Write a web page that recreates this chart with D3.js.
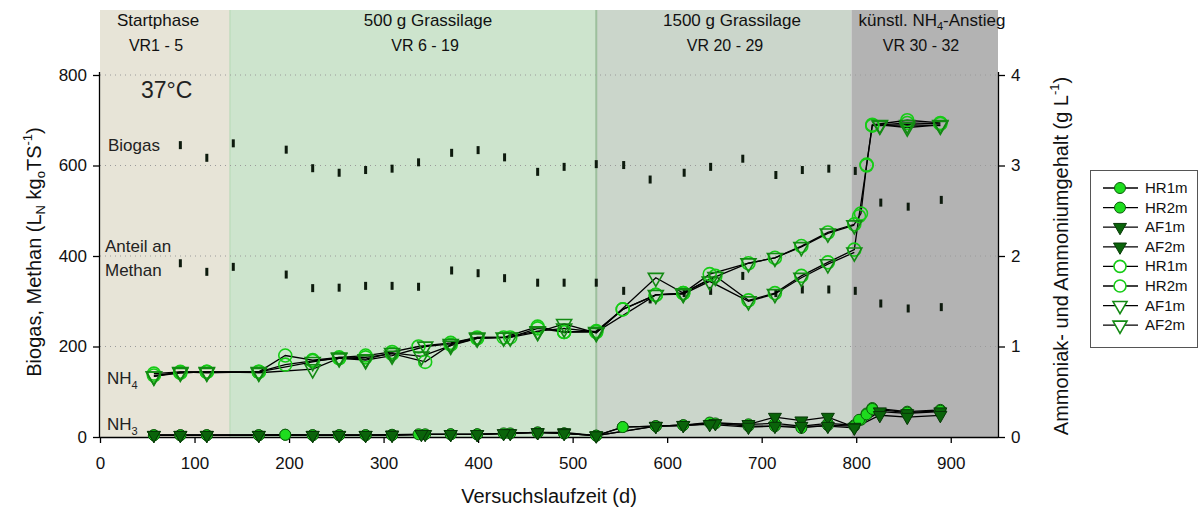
<!DOCTYPE html>
<html><head><meta charset="utf-8">
<script src="https://cdn.jsdelivr.net/npm/d3@7"></script>
<style>body{margin:0;background:#fff}svg{display:block;font-family:"Liberation Sans",Arial,sans-serif}</style>
</head><body>
<svg id="c" width="1203" height="508"></svg>
<script>
// ---- data ----
const xTicks = [0,100,200,300,400,500,600,700,800,900];
const yLeftTicks = [0,200,400,600,800];
const yRightTicks = [0,1,2,3,4];
const phaseStart = [0,137.5,525,795];
const phaseEnd = [137.5,525,795,950];
const phaseTitle = ["Startphase","500 g Grassilage","1500 g Grassilage","künstl. NH4-Anstieg"];
const phaseVR = ["VR1 - 5","VR 6 - 19","VR 20 - 29","VR 30 - 32"];

const gasDays = [85,113,141,197,225,253,281,309,337,372,400,428,463,491,525,554,582,618,646,680,715,743,771,799,826,855,890];
const biogas = [645,617,649,635,594,584,590,593,607,628,634,618,586,597,603,601,569,584,597,615,579,590,593,588,518,509,524];
const methan = [384,365,376,359,329,330,334,334,332,368,362,351,341,341,341,323,304,318,323,356,318,326,326,323,295,284,287];

const hr1Days = [57,85,113,168,196,225,253,281,309,337,371,399,427,463,491,525,553,588,617,645,686,714,742,770,798,805,811,817,854,889];
const hr1NH4 = [0.70,0.72,0.72,0.72,0.90,0.85,0.88,0.90,0.94,1.00,1.04,1.10,1.10,1.22,1.16,1.17,1.41,1.57,1.59,1.80,1.92,1.98,2.11,2.26,2.35,2.47,3.01,3.45,3.50,3.47];
const hr1NH3 = [0.02,0.02,0.02,0.02,0.025,0.02,0.02,0.02,0.025,0.03,0.03,0.03,0.04,0.05,0.04,0.015,0.11,0.12,0.13,0.16,0.14,0.15,0.12,0.15,0.13,0.19,0.26,0.32,0.28,0.30];

const hr2Days = [57,85,113,168,196,225,253,281,309,344,371,399,434,463,491,525,553,588,617,651,686,714,742,770,798,803,811,817,854,889];
const hr2NH4 = [0.68,0.71,0.72,0.72,0.80,0.84,0.87,0.88,0.92,0.83,1.02,1.09,1.10,1.20,1.16,1.16,1.41,1.57,1.59,1.78,1.51,1.59,1.78,1.93,2.07,2.44,3.00,3.44,3.47,3.46];
const hr2NH3 = [0.02,0.02,0.02,0.02,0.025,0.02,0.02,0.02,0.02,0.03,0.03,0.03,0.04,0.05,0.04,0.015,0.11,0.12,0.13,0.15,0.12,0.12,0.10,0.13,0.12,0.19,0.25,0.31,0.27,0.29];

const af1Days = [57,85,113,168,225,253,281,309,344,371,399,434,463,491,525,588,617,651,686,714,742,770,798,812,825,854,889];
const af1NH4 = [0.67,0.71,0.72,0.71,0.75,0.87,0.85,0.90,1.00,1.03,1.10,1.10,1.16,1.25,1.15,1.76,1.59,1.77,1.92,1.98,2.10,2.25,2.34,null,3.45,3.42,3.45];
const af1NH3 = [0.02,0.02,0.02,0.02,0.02,0.02,0.02,0.025,0.03,0.03,0.03,0.04,0.05,0.05,0.015,0.12,0.13,0.15,0.14,0.22,0.18,0.22,0.11,null,0.28,0.26,0.28];

const af2Days = [57,85,113,168,225,253,281,309,340,371,399,427,463,491,525,588,617,645,686,714,742,770,798,812,825,854,889];
const af2NH4 = [0.67,0.72,0.71,0.72,0.83,0.88,0.86,0.93,0.89,1.01,1.09,1.10,1.17,1.20,1.16,1.57,1.58,1.72,1.50,1.58,1.76,1.91,2.04,null,3.44,3.45,3.44];
const af2NH3 = [0.02,0.02,0.02,0.02,0.02,0.02,0.02,0.02,0.03,0.03,0.03,0.04,0.05,0.04,0.015,0.12,0.13,0.14,0.11,0.12,0.12,0.12,0.10,null,0.24,0.22,0.24];

const legendNames = ["HR1m","HR2m","AF1m","AF2m","HR1m","HR2m","AF1m","AF2m"];

// ---- chart ----
const svg = d3.select("#c");
const x = d3.scaleLinear().domain([0,950]).range([100,998]);
const yL = d3.scaleLinear().domain([0,800]).range([437,75]);
const yR = d3.scaleLinear().domain([0,4]).range([437,75]);
const FONT = 17;
const regionTop = 10;
const regionColors = ["#e7e4d7","#cde4cd","#cbd6cb","#b3b3b3"];

// regions
svg.selectAll("rect.reg").data(phaseStart).enter().append("rect")
  .attr("x", (d)=>x(d)).attr("y", regionTop)
  .attr("width", (d,i)=>x(phaseEnd[i])-x(d)).attr("height", yL(0)-regionTop)
  .attr("fill", (d,i)=>regionColors[i]);
svg.append("line").attr("x1",x(phaseStart[1])).attr("x2",x(phaseStart[1])).attr("y1",regionTop).attr("y2",yL(0)).attr("stroke","#b4d8b4").attr("stroke-width",1);
svg.append("line").attr("x1",x(phaseStart[2])).attr("x2",x(phaseStart[2])).attr("y1",regionTop).attr("y2",yL(0)).attr("stroke","#9dc09d").attr("stroke-width",2);

// region titles
const titleX = [158,428,732,932];
const vrX = [156,425,725,921];
phaseTitle.forEach((t,i)=>{
  const tx = svg.append("text").attr("x",titleX[i]).attr("y",26).attr("text-anchor","middle").attr("font-size",17).attr("fill","#111");
  if (i===3) {
    tx.append("tspan").text("künstl. NH");
    tx.append("tspan").attr("font-size",11).attr("dy",4).text("4");
    tx.append("tspan").attr("dy",-4).text("-Anstieg");
  } else tx.text(t);
  svg.append("text").attr("x",vrX[i]).attr("y",51).attr("text-anchor","middle").attr("font-size",16).attr("fill","#111").text(phaseVR[i]);
});

// grid
svg.selectAll("line.grid").data(yLeftTicks.filter(d=>d>0)).enter().append("line")
  .attr("x1",x(0)).attr("x2",x(950)).attr("y1",d=>yL(d)).attr("y2",d=>yL(d))
  .attr("stroke","#9a9a9a").attr("stroke-width",1).attr("stroke-dasharray","1,4");

// axes
const ax = d3.axisBottom(x).tickValues(xTicks).tickSize(6).tickPadding(14);
const gx = svg.append("g").attr("transform",`translate(0,${yL(0)})`).call(ax);
const gl = svg.append("g").attr("transform",`translate(${x(0)},0)`).call(d3.axisLeft(yL).tickValues(yLeftTicks).tickSize(7).tickPadding(6));
const gr = svg.append("g").attr("transform",`translate(${x(950)},0)`).call(d3.axisRight(yR).tickValues(yRightTicks).tickFormat(d3.format("d")).tickSize(7).tickPadding(6));
[gx,gl,gr].forEach(g=>{
  g.selectAll("path").attr("stroke","#000").attr("stroke-width",1.3);
  g.selectAll("line").attr("stroke","#000").attr("stroke-width",1.3);
  g.selectAll("text").attr("font-size",FONT).attr("fill","#111").attr("font-family","Liberation Sans, Arial, sans-serif");
});
gl.select(".domain").attr("d",`M-0.5,${yL(800)-3}V${yL(0)}`);
gr.select(".domain").attr("d",`M0.5,${yL(800)-3}V${yL(0)}`);
gx.select(".domain").attr("d",`M${x(0)},0.5H${x(950)}`);

// axis titles
svg.append("text").attr("x",549).attr("y",503).attr("text-anchor","middle").attr("font-size",20).attr("fill","#111").text("Versuchslaufzeit (d)");
const lt = svg.append("text").attr("transform","translate(41,252) rotate(-90)").attr("text-anchor","middle").attr("font-size",20).attr("fill","#111");
lt.append("tspan").text("Biogas, Methan (L");
lt.append("tspan").attr("font-size",13).attr("dy",4).text("N");
lt.append("tspan").attr("dy",-4).text(" kg");
lt.append("tspan").attr("font-size",13).attr("dy",4).text("o");
lt.append("tspan").attr("dy",-4).text("TS");
lt.append("tspan").attr("font-size",13).attr("dy",-9).text("-1");
lt.append("tspan").attr("dy",9).text(")");
const rt = svg.append("text").attr("transform","translate(1068,256) rotate(-90)").attr("text-anchor","middle").attr("font-size",20).attr("fill","#111");
rt.append("tspan").text("Ammoniak- und Ammoniumgehalt (g L");
rt.append("tspan").attr("font-size",13).attr("dy",-9).text("-1");
rt.append("tspan").attr("dy",9).text(")");

// annotations
svg.append("text").attr("x",141).attr("y",98).attr("font-size",23).attr("fill","#222").text("37°C");
svg.append("text").attr("x",108).attr("y",151).attr("font-size",17).attr("fill","#222").text("Biogas");
svg.append("text").attr("x",105).attr("y",252).attr("font-size",17).attr("fill","#222").text("Anteil an");
svg.append("text").attr("x",105).attr("y",276).attr("font-size",17).attr("fill","#222").text("Methan");
const n4 = svg.append("text").attr("x",107).attr("y",384).attr("font-size",17).attr("fill","#222");
n4.append("tspan").text("NH"); n4.append("tspan").attr("font-size",11).attr("dy",5).text("4");
const n3 = svg.append("text").attr("x",107).attr("y",430).attr("font-size",17).attr("fill","#222");
n3.append("tspan").text("NH"); n3.append("tspan").attr("font-size",11).attr("dy",5).text("3");

// biogas & methane dashes
const dashes = svg.append("g");
[biogas, methan].forEach(arr=>{
  dashes.selectAll(null).data(gasDays.map((d,i)=>[d,arr[i]])).enter().append("rect")
    .attr("x",d=>x(d[0])-1.5).attr("y",d=>yL(d[1])-4).attr("width",3).attr("height",8).attr("fill","#0d1a0d");
});

// series
function pts(days, vals){ return days.map((d,i)=>[d, vals[i]]); }
const triPath = (s)=>{ const h=s*0.87; return `M${-s/2},${-h/3}L${s/2},${-h/3}L0,${2*h/3}Z`; };
const lineR = d3.line().defined(d=>d[1]!==null).x(d=>x(d[0])).y(d=>yR(d[1]));

const nh3Series = [[hr1Days,hr1NH3,"c"],[hr2Days,hr2NH3,"c"],[af1Days,af1NH3,"t"],[af2Days,af2NH3,"t"]];
const nh4Series = [[hr1Days,hr1NH4,"c"],[hr2Days,hr2NH4,"c"],[af1Days,af1NH4,"t"],[af2Days,af2NH4,"t"]];

const lines = svg.append("g");
nh3Series.forEach(s=>{
  lines.append("path").datum(pts(s[0],s[1]).filter(d=>d[1]!==null)).attr("d",lineR).attr("fill","none").attr("stroke","#000").attr("stroke-width",1.3);
});
nh4Series.forEach(s=>{
  lines.append("path").datum(pts(s[0],s[1])).attr("d",lineR).attr("fill","none").attr("stroke","#000").attr("stroke-width",1.3);
});

const marks = svg.append("g");
function drawMarks(series, filled){
  series.forEach(s=>{
    const data = pts(s[0],s[1]).filter(d=>d[1]!==null);
    if (s[2]==="c") {
      marks.selectAll(null).data(data).enter().append("circle")
        .attr("cx",d=>x(d[0])).attr("cy",d=>yR(d[1])).attr("r",filled?5.5:6.5)
        .attr("fill",filled?"#1edc1e":"none").attr("stroke",filled?"#0b5e0b":"#16cc16").attr("stroke-width",filled?1:1.6);
    } else {
      marks.selectAll(null).data(data).enter().append("path")
        .attr("transform",d=>`translate(${x(d[0])},${yR(d[1])})`).attr("d",triPath(filled?13:15))
        .attr("fill",filled?"#0a640a":"none").attr("stroke",filled?"#063806":"#138a13").attr("stroke-width",filled?1:1.6);
    }
  });
}
drawMarks(nh3Series,true);
drawMarks(nh4Series,false);

// legend
const lg = svg.append("g");
lg.append("rect").attr("x",1090.5).attr("y",170.5).attr("width",107).attr("height",177).attr("fill","#fff").attr("stroke","#555").attr("stroke-width",1);
legendNames.forEach((n,i)=>{
  const yy = 188 + i*19.6;
  lg.append("line").attr("x1",1103).attr("x2",1138).attr("y1",yy).attr("y2",yy).attr("stroke","#000").attr("stroke-width",1.3);
  const filled = i<4, circ = (i%4)<2;
  if (circ) lg.append("circle").attr("cx",1120).attr("cy",yy).attr("r",filled?5.5:6)
      .attr("fill",filled?"#1edc1e":"#fff").attr("stroke",filled?"#0b5e0b":"#16cc16").attr("stroke-width",filled?1:1.6);
  else lg.append("path").attr("transform",`translate(1120,${yy})`).attr("d",triPath(filled?13:14))
      .attr("fill",filled?"#0a640a":"#fff").attr("stroke",filled?"#063806":"#138a13").attr("stroke-width",filled?1:1.6);
  lg.append("text").attr("x",1145).attr("y",yy+5).attr("font-size",15).attr("fill","#111").text(n);
});
</script>
</body></html>
